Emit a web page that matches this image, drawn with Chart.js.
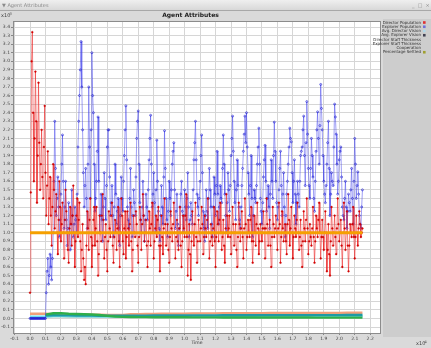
<!DOCTYPE html>
<html><head><meta charset="utf-8">
<script src="https://cdn.jsdelivr.net/npm/chart.js@4.4.1/dist/chart.umd.min.js"></script>
<style>html,body{margin:0;padding:0;background:#dcdcdc;overflow:hidden}
canvas{position:absolute;left:0;top:0}</style></head><body>
<canvas id="c" width="431" height="348"></canvas>
<script>
// Time axis is in units of x10^4, values in units of x10^3
const popStep = 0.005;
const directorPopulation = [
0.30,1.47,3.00,3.34,2.40,1.60,2.10,2.88,2.30,1.35,1.90,2.75,2.05,1.50,1.80,2.20,1.65,1.40,2.00,2.48,1.70,1.20,1.55,1.95,
1.10,1.40,1.65,1.20,0.85,1.30,1.80,1.50,1.05,1.25,1.45,1.00,0.75,1.15,1.60,1.30,0.90,1.10,1.35,1.00,
0.70,1.15,1.50,1.25,1.00,0.80,0.65,1.05,1.30,1.10,0.85,1.20,1.55,1.00,0.60,0.90,1.20,1.40,0.95,1.15,
1.35,0.90,0.55,0.80,1.10,0.70,0.45,0.60,0.40,0.85,1.25,1.05,0.80,1.15,1.40,0.95,0.60,0.85,1.15,1.30,
0.85,1.05,1.30,0.90,0.50,0.75,1.20,1.00,0.90,1.20,1.45,1.15,0.70,0.95,1.10,0.80,0.55,0.90,1.25,1.05,
0.95,1.20,1.35,0.85,0.65,0.95,1.15,1.00,0.80,1.05,1.30,0.90,0.60,1.00,1.40,1.20,0.90,0.75,1.05,1.25,
0.70,0.95,1.25,1.05,0.85,1.10,1.35,0.90,0.55,0.80,1.20,1.00,0.95,1.25,1.10,0.85,0.65,0.95,1.30,1.15,
0.80,1.10,1.45,1.20,0.90,1.00,1.15,0.85,0.60,0.90,1.25,1.05,0.85,1.10,1.35,1.00,0.70,0.90,1.05,1.20,
0.95,1.15,1.30,0.85,0.55,0.85,1.20,0.95,0.75,1.05,1.40,1.10,0.85,1.00,1.10,0.80,0.65,0.95,1.25,1.05,
0.90,1.10,1.35,1.00,0.70,0.95,1.15,0.90,0.80,1.05,1.30,0.85,0.60,0.90,1.20,1.05,0.95,1.20,1.45,0.95,
0.50,0.80,1.10,0.75,0.45,0.90,1.25,1.00,0.85,1.10,1.35,0.95,0.65,0.90,1.15,1.00,0.90,1.05,1.30,1.10,
0.75,0.95,1.20,1.05,0.95,1.15,1.40,1.00,0.70,0.90,1.10,0.95,0.85,1.05,1.30,0.90,0.60,0.95,1.25,1.10,
0.90,1.15,1.35,1.00,0.80,0.95,1.15,0.85,0.65,1.05,1.45,1.20,0.95,1.05,1.20,0.95,0.75,1.00,1.30,1.10,
0.85,1.00,1.10,0.80,0.60,0.95,1.35,1.10,0.90,1.05,1.25,0.95,0.70,1.05,1.40,1.10,0.80,0.95,1.15,1.00,
0.95,1.15,1.30,0.90,0.65,0.90,1.20,1.00,0.85,1.10,1.35,1.05,0.75,0.90,1.10,1.00,0.90,1.05,1.25,1.05,
0.70,1.05,1.40,1.10,0.85,1.00,1.15,0.85,0.60,0.95,1.30,1.10,0.95,1.05,1.20,1.00,0.80,1.05,1.35,1.10,
0.65,0.95,1.25,1.05,0.90,1.00,1.10,0.90,0.75,1.10,1.45,1.15,0.85,1.05,1.30,1.00,0.70,0.95,1.20,1.05,
0.95,1.15,1.35,1.00,0.80,0.95,1.15,0.85,0.60,0.90,1.25,1.05,0.90,1.15,1.40,1.05,0.75,0.90,1.10,0.95,
0.85,1.05,1.30,0.95,0.65,0.90,1.20,1.05,0.95,1.15,1.35,1.00,0.70,0.95,1.15,0.95,0.80,1.00,1.25,1.00,
0.55,0.80,1.10,0.75,0.50,0.90,1.30,1.05,0.85,1.00,1.20,0.95,0.75,1.05,1.40,1.10,0.90,1.00,1.15,0.85,
0.60,1.00,1.35,1.05,0.80,1.00,1.25,0.85,0.55,0.85,1.10,1.00,0.95,1.10,1.30,0.95,0.70,0.95,1.20,1.00,
0.85,1.05,1.25,1.10,0.95,1.00,1.05
];
const explorerPopulation = [
0,0,0,0,0,0,0,0,0,0,0,0,0,0,0,0,0,0,0,0,0,
0.30,0.55,0.70,0.40,0.50,0.75,0.60,0.45,0.70,1.00,1.60,2.30,1.75,1.20,1.40,1.65,1.30,0.95,1.15,1.45,1.80,
2.14,1.60,1.05,1.30,1.60,1.15,0.85,1.05,1.35,1.00,0.80,1.10,1.50,1.20,0.95,1.10,1.30,1.15,1.00,1.45,
2.00,2.30,2.60,2.90,3.23,2.70,2.20,1.70,1.30,1.55,1.75,1.40,1.05,1.80,2.70,2.00,1.40,2.20,3.10,2.60,
2.40,1.80,1.25,1.40,1.60,1.95,2.35,1.60,1.00,1.20,1.45,1.15,0.90,1.30,1.70,1.40,1.15,1.55,2.00,2.20,
2.20,1.65,1.20,1.35,1.55,1.20,0.95,1.30,1.80,1.45,1.10,1.25,1.40,1.05,0.85,1.20,1.65,1.40,1.25,1.60,
1.90,2.20,2.48,1.85,1.30,1.15,1.05,1.40,1.75,1.30,0.95,1.20,1.50,1.35,1.20,1.65,2.10,2.30,2.42,1.80,
1.35,1.15,1.00,1.30,1.60,1.20,0.90,1.15,1.45,1.30,1.15,1.50,1.85,2.10,2.37,1.80,1.30,1.45,1.70,1.35,
1.00,1.50,2.08,1.60,1.25,1.05,0.90,1.20,1.55,1.30,1.10,1.65,2.19,1.75,1.40,1.15,0.95,1.25,1.60,1.40,
1.20,1.50,1.80,1.95,2.05,1.50,1.05,1.25,1.45,1.10,0.85,1.05,1.30,1.45,1.60,1.25,1.00,1.20,1.50,1.30,
1.15,1.40,1.70,1.30,0.95,1.15,1.35,1.20,1.10,1.50,1.85,2.05,2.30,1.85,1.45,1.30,1.20,1.40,1.60,1.90,
2.14,1.70,1.25,1.05,0.90,1.20,1.50,1.25,1.05,1.40,1.75,1.50,1.30,1.10,0.95,1.30,1.65,1.45,1.20,1.55,
1.95,1.45,1.10,1.30,1.55,1.40,1.35,1.75,2.14,1.80,1.45,1.20,1.00,1.35,1.70,1.50,1.25,1.55,1.90,2.10,
2.36,1.95,1.60,1.35,1.15,1.50,1.85,1.55,1.30,1.15,1.05,1.30,1.55,1.75,1.95,2.15,2.36,2.05,2.40,2.00,
1.70,1.45,1.20,1.55,1.90,1.40,0.95,1.20,1.50,1.40,1.35,1.55,1.80,2.00,2.22,1.80,1.40,1.25,1.10,1.35,
1.65,1.85,2.02,1.60,1.25,1.40,1.55,1.30,1.05,1.45,1.85,1.60,1.40,1.90,2.29,1.95,1.60,1.35,1.15,1.30,
1.50,1.75,1.95,1.55,1.20,1.45,1.70,1.30,0.95,1.20,1.45,1.60,1.80,2.00,2.22,2.10,2.06,1.70,1.35,1.60,
1.85,1.45,1.10,1.35,1.60,1.45,1.30,1.60,1.90,1.95,2.00,2.20,2.36,1.90,1.55,2.05,2.53,2.15,1.75,1.55,
1.40,1.75,2.10,1.90,1.65,1.40,1.25,1.60,1.95,2.20,2.41,2.10,1.80,2.25,2.73,2.45,2.20,1.90,1.60,1.45,
1.35,1.55,1.80,2.05,2.30,1.75,1.20,1.45,1.70,1.60,1.55,2.00,2.50,2.35,2.15,1.80,1.45,1.60,1.85,1.95,
2.00,1.65,1.30,1.20,1.15,1.40,1.60,1.30,1.05,1.25,1.45,1.35,1.25,1.50,1.75,1.40,1.10,1.60,2.10,1.80,
1.40,1.55,1.71,1.45,1.20,1.10,1.05,1.30,1.50
];
const attrStep = 0.05;
const avgDirectorVision = [0.020,0.020,0.020,
0.030,0.030,0.029,0.028,0.027,0.026,0.025,0.025,0.025,0.025,
0.026,0.026,0.027,0.027,0.027,0.028,0.028,0.028,0.028,0.029,0.029,0.029,0.029,0.030,0.030,0.030,0.030,0.030,0.031,0.031,0.031,0.031,0.031,0.031,0.032,0.032,0.032,0.032,0.032,0.032,0.032];
const avgExplorerVision = [null,null,0.035,
0.037,0.036,0.036,0.035,0.034,0.033,0.032,0.032,0.031,0.031,
0.032,0.033,0.033,0.034,0.034,0.035,0.035,0.035,0.036,0.036,0.036,0.036,0.037,0.037,0.037,0.037,0.037,0.038,0.038,0.038,0.038,0.038,0.038,0.039,0.039,0.039,0.039,0.039,0.040,0.040,0.040];
const directorStaffThickness = [0.055,0.055,0.055,
0.050,0.050,0.048,0.046,0.045,0.044,0.043,0.042,0.042,0.042,
0.048,0.050,0.052,0.053,0.054,0.055,0.055,0.056,0.057,0.058,0.058,0.059,0.060,0.060,0.061,0.061,0.062,0.062,0.063,0.063,0.063,0.064,0.064,0.064,0.065,0.065,0.065,0.065,0.066,0.066,0.066];
const explorerStaffThickness = [null,null,0.020,
0.022,0.022,0.021,0.021,0.020,0.020,0.020,0.020,0.020,0.020,
0.020,0.020,0.020,0.020,0.020,0.020,0.020,0.020,0.020,0.020,0.020,0.020,0.020,0.020,0.020,0.020,0.020,0.020,0.020,0.020,0.020,0.020,0.020,0.020,0.020,0.020,0.020,0.020,0.020,0.020,0.020];
const cooperation = [null,null,0.045,
0.060,0.062,0.055,0.052,0.048,0.045,0.040,0.030,0.022,0.018,
0.016,0.015,0.015,0.014,0.014,0.013,0.013,0.013,0.012,0.012,0.012,0.012,0.011,0.011,0.011,0.011,0.011,0.010,0.010,0.010,0.010,0.010,0.010,0.010,0.009,0.009,0.009,0.009,0.009,0.009,0.009];
const percentageSettled = [1.000,1.000,1.000,1.000,1.000,1.000,1.000,1.000,1.000,1.000,1.000,
1.000,1.000,1.000,1.000,1.000,1.000,1.000,1.000,1.000,1.000,1.000,
1.000,1.000,1.000,1.000,1.000,1.000,1.000,1.000,1.000,1.000,1.000,
1.000,1.000,1.000,1.000,1.000,1.000,1.000,1.000,1.000,1.000,1.000];
const seriesLabels = ["Director Population","Explorer Population","Avg. Director Vision","Avg. Explorer Vision","Director Staff Thickness","Explorer Staff Thickness","Cooperation","Percentage Settled"];

function pts(arr, step){ return arr.map((v,i)=>({x: Math.round(i*step*1000)/1000, y: v})); }

const FONT = "'DejaVu Sans', sans-serif";

const chromePlugin = {
  id: 'chrome',
  beforeDraw(chart){
    const ctx = chart.ctx, W = chart.width, H = chart.height, a = chart.chartArea;
    ctx.save();
    ctx.fillStyle = '#dadada'; ctx.fillRect(0,0,W,H);
    const g = ctx.createLinearGradient(0,0,0,10);
    g.addColorStop(0,'#efefef'); g.addColorStop(1,'#d8d8d8');
    ctx.fillStyle = g; ctx.fillRect(0,0,W,10);
    ctx.fillStyle = '#a8a8a8'; ctx.fillRect(0,10,W,1);
    ctx.fillStyle = '#8a8a8a'; ctx.font = "5px " + FONT; ctx.textBaseline = 'middle';
    ctx.fillText('\u25BC Agent Attributes', 2, 5.5);
    ctx.fillText('_  \u25A1  \u00D7', 412, 5.5);
    ctx.fillStyle = '#cdcdcd'; ctx.fillRect(383, 19, W-383, 318);
    ctx.fillStyle = '#ffffff'; ctx.fillRect(a.left, a.top, a.right-a.left, a.bottom-a.top);
    ctx.restore();
  },
  afterDraw(chart){
    const ctx = chart.ctx, a = chart.chartArea;
    ctx.save();
    ctx.strokeStyle = '#8c8c8c'; ctx.lineWidth = 1;
    ctx.strokeRect(Math.round(a.left)+0.5, Math.round(a.top)+0.5, Math.round(a.right-a.left)-1, Math.round(a.bottom-a.top));
    ctx.fillStyle = '#444'; ctx.textBaseline = 'alphabetic';
    ctx.font = "5px " + FONT; ctx.fillText('x10', 1, 17);
    ctx.font = "3.5px " + FONT; ctx.fillText('3', 9.5, 14.5);
    ctx.font = "5px " + FONT; ctx.fillText('x10', 416, 345);
    ctx.font = "3.5px " + FONT; ctx.fillText('4', 424.5, 342.5);
    ctx.font = "4px " + FONT; ctx.textAlign = 'right'; ctx.textBaseline = 'middle';
    chart.data.datasets.forEach((ds,i)=>{
      const y = 22.5 + i*4.25;
      ctx.fillStyle = '#333';
      ctx.fillText(ds.label, 421, y);
      if (ds.legendMarker) {
        ctx.fillStyle = ds.legendMarker;
        ctx.fillRect(423, y-1.3, 2.6, 2.6);
      }
    });
    ctx.restore();
  }
};

new Chart(document.getElementById('c'), {
  type: 'line',
  data: { datasets: [
    { label: seriesLabels[0], data: pts(directorPopulation, popStep), borderColor: 'rgba(235,30,30,0.8)', backgroundColor: '#d80000', pointBackgroundColor:'#dd0000', pointBorderColor:'#c00000', borderWidth: 0.7, pointRadius: 0.9, pointBorderWidth: 0.4, legendMarker:'#e03030', order: 2 },
    { label: seriesLabels[1], data: pts(explorerPopulation, popStep), borderColor: 'rgba(60,60,235,0.7)', backgroundColor: '#2020d0', pointBackgroundColor:'rgba(255,255,255,0)', pointBorderColor:'#1a1ad0', borderWidth: 0.7, pointRadius: 1.0, pointBorderWidth: 0.6, legendMarker:'#7070d8', order: 3 },
    { label: seriesLabels[2], data: pts(avgDirectorVision, attrStep), borderColor: '#6fe0f0', borderWidth: 2.2, pointRadius: 0, legendMarker:'#b0d8e8', order: 6 },
    { label: seriesLabels[3], data: pts(avgExplorerVision, attrStep), borderColor: '#1d9aa6', borderWidth: 2.4, pointRadius: 0, legendMarker:'#404050', order: 5 },
    { label: seriesLabels[4], data: pts(directorStaffThickness, attrStep), borderColor: '#f0a07a', borderWidth: 2.4, pointRadius: 0, order: 7 },
    { label: seriesLabels[5], data: pts(explorerStaffThickness, attrStep), borderColor: '#8fd0c8', borderWidth: 2, pointRadius: 0, order: 8 },
    { label: seriesLabels[6], data: pts(cooperation, attrStep), borderColor: '#2fae4a', borderWidth: 2.4, pointRadius: 0, order: 4 },
    { label: seriesLabels[7], data: pts(percentageSettled, attrStep), borderColor: '#f5a000', borderWidth: 3, pointRadius: 0, legendMarker:'#a0a030', order: 1 }
  ]},
  options: {
    responsive: false, animation: false, devicePixelRatio: 1,
    layout: { padding: { top: 10, right: 50, left: 0, bottom: 0 } },
    elements: { line: { tension: 0 } },
    plugins: {
      legend: { display: false }, tooltip: { enabled: false },
      title: { display: true, text: 'Agent Attributes', color: '#222', font: { family: FONT, size: 6, weight: 'bold' }, padding: { top: 2, bottom: 1.8 } }
    },
    scales: {
      x: { type: 'linear', min: -0.11, max: 2.27,
        title: { display: true, text: 'Time', color: '#333', font: { family: FONT, size: 4.5 }, padding: { top: 0, bottom: 2 } },
        ticks: { stepSize: 0.1, includeBounds: false, autoSkip: false, maxRotation: 0, color: '#444', font: { family: FONT, size: 4.5 }, padding: 1,
          callback: v => (Math.abs(v) < 1e-9 ? 0 : v).toFixed(1) },
        grid: { color: '#d6d6d6', lineWidth: 1, tickLength: 2, tickColor: '#888' },
        border: { display: false },
        afterFit: s => { s.height = 15; }
      },
      y: { type: 'linear', min: -0.17, max: 3.47,
        ticks: { stepSize: 0.1, includeBounds: false, autoSkip: false, color: '#444', font: { family: FONT, size: 4.5 }, padding: 1,
          callback: v => (Math.abs(v) < 1e-9 ? 0 : v).toFixed(1) },
        grid: { color: '#d6d6d6', lineWidth: 1, tickLength: 2, tickColor: '#888' },
        border: { display: false },
        afterFit: s => { s.width = 13; }
      }
    }
  },
  plugins: [chromePlugin]
});
</script></body></html>
